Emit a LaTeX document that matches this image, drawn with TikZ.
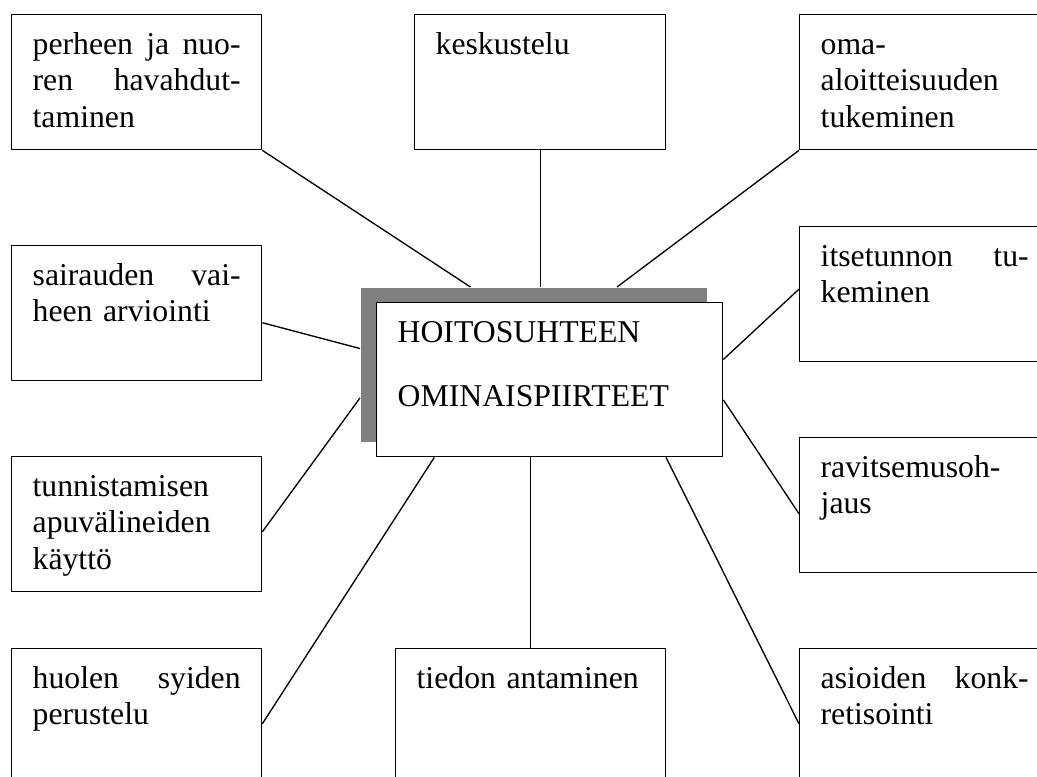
\documentclass[tikz,border=0pt]{standalone}
\usepackage{fontspec}
\setmainfont{Liberation Serif}
\usetikzlibrary{calc}
\newcommand{\jline}[1]{\makebox[\tw pt]{#1}}
\begin{document}
\begin{tikzpicture}[x=0.75pt,y=-0.75pt,line join=round,line width=1pt]
	\tikzset{box/.style={draw,rectangle,inner sep=0pt,anchor=north west,minimum height=101.25pt},
		boxtext/.style={anchor=base west,inner sep=0pt,align=left,font=\fontsize{23.8}{27.4}\selectfont}}
	\useasboundingbox (0,0) rectangle (1037,776);
	\clip (0,0) rectangle (1037,776);
	\foreach \nm/\x/\y/\w/\txt in {perhe/11/14/250/{\jline{perheen\hfill ja\hfill nuo-}\\\jline{ren\hfill havahdut-}\\taminen},
		kesk/414/14/251/{keskustelu},
		oma/799/14/250/{oma-\\aloitteisuuden\\tukeminen},
		sair/11/245/250/{\jline{sairauden\hfill vai-}\\heen arviointi},
		itse/799/226/250/{\jline{itsetunnon\hfill tu-}\\keminen},
		tunn/11/456/250/{tunnistamisen\\apuvälineiden\\käyttö},
		ravi/799/437/250/{ravitsemusoh-\\jaus},
		huol/11/648/250/{\jline{huolen\hfill syiden}\\perustelu},
		tied/395/648/270/{tiedon antaminen},
		asio/799/648/250/{\jline{asioiden\hfill konk-}\\retisointi}}
	{
		\pgfmathsetmacro{\tw}{(\w-42)*0.75}
		\node[box,minimum width=\w*0.75pt] (\nm) at (\x,\y) {};
		\node[boxtext,text width=\tw pt] (\nm-t) at ([shift={(21,40)}]\nm.north west) {\txt};
	}
	\node[fill=black!50,inner sep=0pt,anchor=north west,minimum width=259.5pt,minimum height=115.5pt] (shade) at (360,287) {};
	\node[box,fill=white,minimum width=259.5pt,minimum height=115.5pt] (main) at (376,302) {};
	\node[boxtext,text width=230pt,font=\fontsize{23.8}{48}\selectfont] (main-t) at ([shift={(21,40)}]main.north west) {HOITOSUHTEEN\\OMINAISPIIRTEET};
	\draw (perhe.south east) -- ($(shade.north west)!0.318!(shade.north east)$);
	\draw (kesk.south) -- (kesk.south |- shade.north);
	\draw (oma.south west) -- ($(shade.north west)!0.74!(shade.north east)$);
	\draw ($(sair.north east)!0.57!(sair.south east)$) -- ($(shade.north west)!0.396!(shade.south west)$);
	\draw ($(itse.north west)!0.463!(itse.south west)$) -- ($(main.north east)!0.37!(main.south east)$);
	\draw ($(tunn.north east)!0.556!(tunn.south east)$) -- ($(shade.north west)!0.714!(shade.south west)$);
	\draw ($(main.north east)!0.63!(main.south east)$) -- ($(ravi.north west)!0.563!(ravi.south west)$);
	\draw ($(huol.north east)!0.556!(huol.south east)$) -- ($(main.south west)!0.168!(main.south east)$);
	\coordinate (mtied) at ($(main.south west)!0.445!(main.south east)$);
	\draw (mtied) -- (mtied |- tied.north);
	\draw ($(main.south west)!0.835!(main.south east)$) -- ($(asio.north west)!0.556!(asio.south west)$);
\end{tikzpicture}
\end{document}
